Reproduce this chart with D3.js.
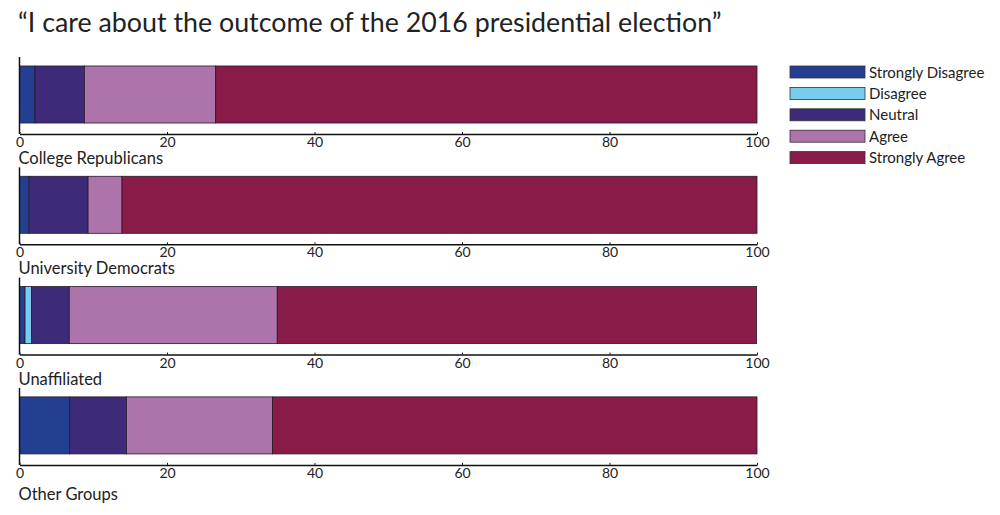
<!DOCTYPE html>
<html>
<head>
<meta charset="utf-8">
<script src="https://cdn.jsdelivr.net/npm/d3@7"></script>
<style>
  body { margin: 0; background: #fff; }
  text { font-family: Lato, 'Open Sans', sans-serif; fill: #222; }
</style>
</head>
<body>
<div id="chart"></div>
<script>
// data (percent of respondents)
const groups = ['College Republicans', 'University Democrats', 'Unaffiliated', 'Other Groups']
const levels = ['Strongly Disagree', 'Disagree', 'Neutral', 'Agree', 'Strongly Agree']
const stronglyDisagree = [2.1, 1.3, 0.75, 6.8]
const disagree = [0, 0, 0.9, 0]
const neutral = [6.7, 8.0, 5.1, 7.7]
const agree = [17.8, 4.6, 28.2, 19.8]
const stronglyAgree = [73.4, 86.1, 65.0, 65.7]
const xTicks = [0, 20, 40, 60, 80, 100]
const colors = ['#243f92', '#78cdef', '#3d2b7a', '#ad73ab', '#881b48']

const W = 1000, H = 515
const svg = d3.select('#chart').append('svg').attr('width', W).attr('height', H)

svg.append('text')
  .attr('x', 18).attr('y', 32)
  .style('font-size', '26.8px')
  .text('\u201cI care about the outcome of the 2016 presidential election\u201d')

const table = groups.map((g, i) => ({
  group: g,
  'Strongly Disagree': stronglyDisagree[i],
  'Disagree': disagree[i],
  'Neutral': neutral[i],
  'Agree': agree[i],
  'Strongly Agree': stronglyAgree[i]
}))
const stacked = d3.stack().keys(levels)(table)

const x = d3.scaleLinear().domain([0, 100]).range([19.5, 757])
const panel = d3.scalePoint().domain(groups).range([57, 57 + 3 * 110.3])
const panelH = 77
const barY = d3.scaleBand().domain(['bar']).range([0, panelH]).paddingOuter(0.175).paddingInner(0).align(0.45)
const color = d3.scaleOrdinal().domain(levels).range(colors)

groups.forEach((g, gi) => {
  const p = svg.append('g').attr('transform', 'translate(0,' + panel(g) + ')')

  stacked.forEach(s => {
    const d = s[gi]
    if (d[1] - d[0] <= 0) return
    p.append('rect')
      .attr('x', x(d[0]))
      .attr('y', barY('bar'))
      .attr('width', x(d[1]) - x(d[0]))
      .attr('height', barY.bandwidth())
      .attr('fill', color(s.key))
      .attr('stroke', '#2a1a2a')
      .attr('stroke-width', 0.8)
  })

  // left axis line
  p.append('line')
    .attr('x1', x(0)).attr('x2', x(0))
    .attr('y1', 0).attr('y2', panelH)
    .attr('stroke', '#111').attr('stroke-width', 1.5)

  const ax = p.append('g')
    .attr('transform', 'translate(0,' + panelH + ')')
    .call(d3.axisBottom(x).tickValues(xTicks).tickSize(-2).tickSizeOuter(0).tickPadding(3))
  ax.select('.domain').attr('stroke', '#111').attr('stroke-width', 1.5)
  ax.selectAll('.tick line').attr('stroke', '#111')
  ax.selectAll('.tick text')
    .style('font-size', '14px')
    .style('font-family', 'Lato, sans-serif')
    .attr('fill', '#222')

  // last group label sits a little lower in the original
  const isLast = gi === groups.length - 1
  p.append('text')
    .attr('x', x(0) - 1).attr('y', panelH + (isLast ? 35 : 30))
    .style('font-size', '16.5px')
    .text(g)
})

// legend
const leg = svg.append('g').attr('transform', 'translate(790,66)')
levels.forEach((l, i) => {
  const row = leg.append('g').attr('transform', 'translate(0,' + i * 21.4 + ')')
  row.append('rect')
    .attr('width', 75).attr('height', 12)
    .attr('fill', color(l)).attr('stroke', '#333').attr('stroke-width', 0.8)
  row.append('text')
    .attr('x', 79).attr('y', 11.5)
    .style('font-size', '15px')
    .text(l)
})
</script>
</body>
</html>
